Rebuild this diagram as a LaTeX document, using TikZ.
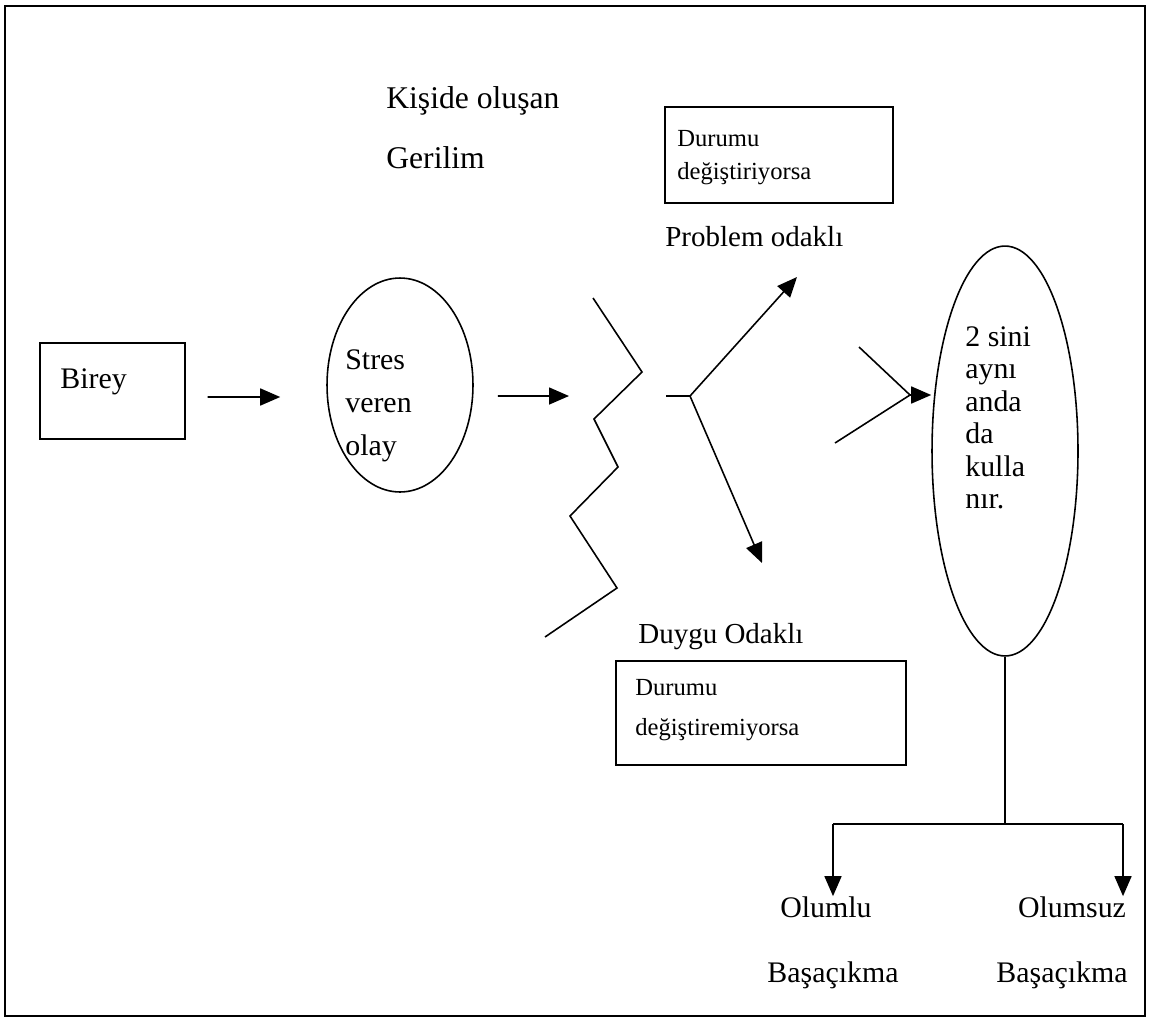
\documentclass[tikz,border=0pt]{standalone}
\usepackage{fontspec}
\setmainfont{Liberation Serif}
\usetikzlibrary{shapes.geometric,arrows.meta,calc}

\tikzset{
	box/.style={draw, line width=0.8pt, inner sep=0pt},
	oval/.style={draw, ellipse, line width=0.9pt, inner sep=0pt},
	lbl/.style={anchor=west, inner sep=0pt, align=left, font=\fontsize{17}{20}\selectfont},
	word/.style={inner sep=0pt, font=\fontsize{17}{20}\selectfont},
	small/.style={anchor=west, inner sep=0pt, align=left},
	ln/.style={line width=0.9pt},
	arr/.style={ln, -{Triangle[length=0.4cm,width=0.34cm]}}
}

\begin{document}
\begin{tikzpicture}[x=0.02cm, y=-0.02cm]

	\useasboundingbox (0,0) rectangle (1155,1021);
	\draw[line width=1.2pt] (5,6) rectangle (1145,1016);

	% birey and stres
	\node[box, minimum width=2.9cm, minimum height=1.92cm] (birey) at (112.5,391) {};
	\node[lbl] (bireytxt) at (60,382) {Birey};
	\node[oval, minimum width=2.92cm, minimum height=4.28cm] (stres) at (400,385) {};
	\node[lbl, font=\fontsize{17}{24.5}\selectfont] (strestxt) at (345,406) {Stres\\veren\\olay};
	\draw[arr] ([xshift=0.44cm,yshift=-0.12cm]birey.east) -- ([xshift=-0.92cm,yshift=-0.24cm]stres.west);

	% gerilim
	\node[lbl, font=\fontsize{18}{34}\selectfont] (gerilim) at (386,128) {Kişide oluşan\\Gerilim};
	\coordinate (zzin) at (569,396);
	\draw[arr] ([xshift=0.48cm,yshift=-0.22cm]stres.east) -- (zzin);
	\draw[ln] (593,298) -- (642,372) -- (594,419) -- (618,467) -- (570,516) -- (617,588) -- (545,637);

	% fork
	\coordinate (fork0) at (666,396);
	\coordinate (fork) at (690,396);
	\coordinate (up) at (797,277);
	\coordinate (down) at (762,563);
	\draw[ln] (fork0) -- (fork);
	\draw[arr] (fork) -- (up);
	\draw[arr] (fork) -- (down);

	\node[box, minimum width=4.56cm, minimum height=1.92cm] (probbox) at (779,155) {};
	\node[small, font=\fontsize{14}{18.7}\selectfont] (probtxt) at (677,158) {Durumu\\değiştiriyorsa};
	\node[lbl, font=\fontsize{16.5}{20}\selectfont] (problem) at (665,237) {Problem odaklı};

	\node[lbl, font=\fontsize{16.5}{20}\selectfont] (duygu) at (638,637) {Duygu Odaklı};
	\node[box, minimum width=5.8cm, minimum height=2.08cm] (duygubox) at (761,713) {};
	\node[small, font=\fontsize{14}{22.7}\selectfont] (duygutxt) at (635,710) {Durumu\\değiştiremiyorsa};

	% both at once
	\node[oval, minimum width=2.92cm, minimum height=8.2cm] (ikisi) at (1005,451) {};
	\node[lbl, font=\fontsize{17}{18.5}\selectfont] (ikisitxt) at (965,418) {2 sini\\aynı\\anda\\da\\kulla\\nır.};
	\coordinate (meet) at (910,395);
	\draw[ln] (859,347) -- (meet);
	\draw[ln] (835,443) -- (meet);
	\draw[arr] (meet) -- (meet -| ikisi.west);

	% sonuc
	\coordinate (split) at (1005,824);
	\coordinate (lsplit) at (833,824);
	\coordinate (rsplit) at (1123,824);
	\draw[ln] (ikisi.south) -- (split);
	\draw[ln] (lsplit) -- (rsplit);
	\node[word] (olumlu) at (826,907) {Olumlu};
	\node[word] (olumsuz) at (1072,907) {Olumsuz};
	\node[word] (basa1) at (833,975) {Başaçıkma};
	\node[word] (basa2) at (1062,975) {Başaçıkma};
	\draw[arr] (lsplit) -- (lsplit |- olumlu.north);
	\draw[arr] (rsplit) -- (rsplit |- olumsuz.north);

\end{tikzpicture}
\end{document}
